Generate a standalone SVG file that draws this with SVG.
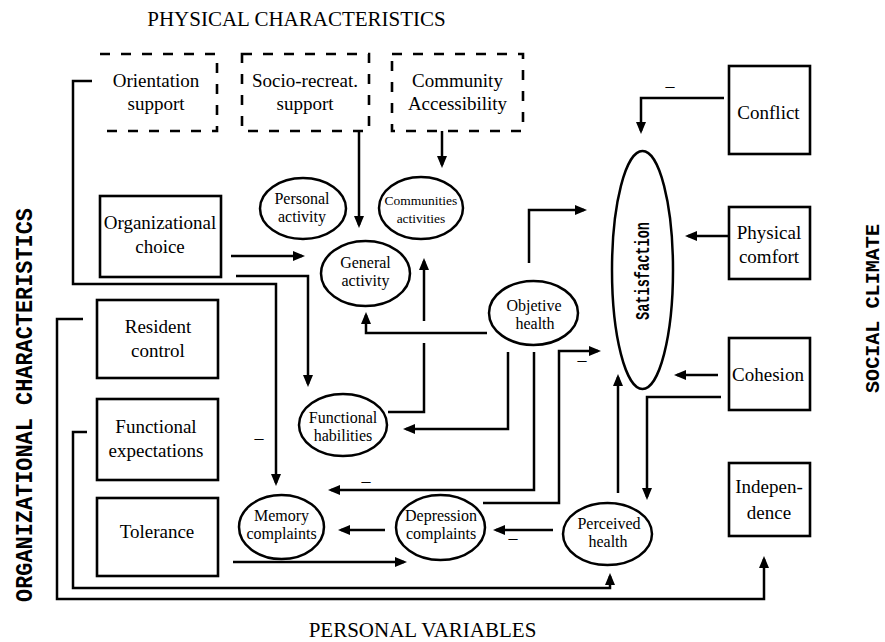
<svg xmlns="http://www.w3.org/2000/svg" width="885" height="642" viewBox="0 0 885 642">
<style>
.box{fill:#fff;stroke:#000;stroke-width:2.6}
.dbox{fill:none;stroke:#000;stroke-width:2.6;stroke-dasharray:10 11}
.ell{fill:#fff;stroke:#000;stroke-width:2.5}
.t{font-family:"Liberation Serif","Times New Roman",serif;font-size:19px;text-anchor:middle;fill:#000}
.te{font-family:"Liberation Serif","Times New Roman",serif;font-size:16px;text-anchor:middle;fill:#000}
.ts{font-family:"Liberation Serif","Times New Roman",serif;font-size:13.5px;text-anchor:middle;fill:#000}
.hd{font-family:"Liberation Serif","Times New Roman",serif;font-size:21px;text-anchor:middle;fill:#000}
.vl{font-family:"Liberation Mono","Courier New",monospace;font-weight:bold;text-anchor:middle;fill:#000}
.neg{font-family:"Liberation Serif","Times New Roman",serif;font-size:18px;text-anchor:middle;fill:#000}
.c{fill:none;stroke:#000;stroke-width:2.5;stroke-linejoin:miter}
.a{marker-end:url(#ah)}
</style>
<defs>
<marker id="ah" markerUnits="userSpaceOnUse" markerWidth="12" markerHeight="10" refX="9" refY="5" orient="auto" viewBox="0 0 12 10">
<path d="M0,0 L12,5 L0,10 z" fill="#000"/>
</marker>
</defs>

<g id="headings">
<text class="hd" x="296.5" y="26">PHYSICAL CHARACTERISTICS</text>
<text class="hd" x="422.5" y="637">PERSONAL VARIABLES</text>
<text class="vl" font-size="24" textLength="394" lengthAdjust="spacingAndGlyphs" transform="translate(32,405) rotate(-90)">ORGANIZATIONAL CHARACTERISTICS</text>
<text class="vl" font-size="21" textLength="169" lengthAdjust="spacingAndGlyphs" transform="translate(879,308.5) rotate(-90)">SOCIAL CLIMATE</text>
</g>

<g id="connectors">
<path class="c a" d="M359,131 V225"/>
<path class="c a" d="M442,131 V165"/>
<path class="c a" d="M231,256 H302"/>
<path class="c a" d="M236,276 H308 V384"/>
<path class="c a" d="M92,81 H73 V284 H276 V483"/>
<path class="c a" d="M83,319 H57 V599 H764 V559"/>
<path class="c a" d="M87,432 H73 V588 H610 V576"/>
<path class="c a" d="M233,562 H404"/>
<path class="c a" d="M529,263 V210 H584"/>
<path class="c a" d="M487,333 H366 V315"/>
<path class="c" d="M388,412 H424 V343"/>
<path class="c a" d="M424,321 V261"/>
<path class="c a" d="M508,352 V429 H406"/>
<path class="c a" d="M534,352 V490 H331"/>
<path class="c a" d="M483,503 H559 V351 H598"/>
<path class="c a" d="M618,493 V377"/>
<path class="c a" d="M553,530 H496"/>
<path class="c a" d="M385,530 H341"/>
<path class="c a" d="M724,98 H641 V131"/>
<path class="c a" d="M728,236 H688"/>
<path class="c a" d="M718,375 H677"/>
<path class="c a" d="M721,397 H647 V497"/>
<text class="neg" x="670" y="92">–</text>
<text class="neg" x="259" y="444">–</text>
<text class="neg" x="366" y="487">–</text>
<text class="neg" x="582" y="366">–</text>
<text class="neg" x="513" y="544">–</text>
</g>

<g id="orientation-support">
<path class="dbox" d="M100,54 H217 V131 H100"/>
<text class="t" x="156" y="87">Orientation</text>
<text class="t" x="156" y="110">support</text>
</g>
<g id="socio-recreat-support">
<rect class="dbox" x="242" y="54" width="127" height="77"/>
<text class="t" x="305" y="87">Socio-recreat.</text>
<text class="t" x="305" y="110">support</text>
</g>
<g id="community-accessibility">
<rect class="dbox" x="392" y="54" width="131" height="77"/>
<text class="t" x="457.5" y="87">Community</text>
<text class="t" x="457.5" y="110">Accessibility</text>
</g>

<g id="organizational-choice">
<rect class="box" x="100" y="196" width="121" height="81"/>
<text class="t" x="160" y="229">Organizational</text>
<text class="t" x="160" y="253">choice</text>
</g>
<g id="resident-control">
<rect class="box" x="97" y="300" width="121" height="78"/>
<text class="t" x="158" y="333">Resident</text>
<text class="t" x="158" y="357">control</text>
</g>
<g id="functional-expectations">
<rect class="box" x="97" y="399" width="121" height="81"/>
<text class="t" x="156" y="433">Functional</text>
<text class="t" x="156" y="457">expectations</text>
</g>
<g id="tolerance">
<rect class="box" x="97" y="498" width="121" height="78"/>
<text class="t" x="157" y="538">Tolerance</text>
</g>

<g id="conflict">
<rect class="box" x="729" y="66" width="81" height="88"/>
<text class="t" x="768.5" y="119">Conflict</text>
</g>
<g id="physical-comfort">
<rect class="box" x="729" y="207" width="81" height="72"/>
<text class="t" x="769" y="239">Physical</text>
<text class="t" x="769" y="263">comfort</text>
</g>
<g id="cohesion">
<rect class="box" x="729" y="338" width="81" height="72"/>
<text class="t" x="768" y="381">Cohesion</text>
</g>
<g id="independence">
<rect class="box" x="729" y="463" width="81" height="73"/>
<text class="t" x="769" y="493">Indepen-</text>
<text class="t" x="769" y="519">dence</text>
</g>

<g id="personal-activity">
<ellipse class="ell" cx="303" cy="208.5" rx="43" ry="30.5"/>
<text class="te" x="302" y="204">Personal</text>
<text class="te" x="302" y="222">activity</text>
</g>
<g id="communities-activities">
<ellipse class="ell" cx="421" cy="208" rx="42" ry="31"/>
<text class="ts" x="421" y="205">Communities</text>
<text class="ts" x="421" y="223">activities</text>
</g>
<g id="general-activity">
<ellipse class="ell" cx="365.5" cy="273.5" rx="44.5" ry="32.5"/>
<text class="te" x="365.5" y="268">General</text>
<text class="te" x="365.5" y="286">activity</text>
</g>
<g id="objetive-health">
<ellipse class="ell" cx="533.5" cy="313" rx="44.5" ry="32"/>
<text class="te" x="534" y="311">Objetive</text>
<text class="te" x="535" y="329">health</text>
</g>
<g id="functional-habilities">
<ellipse class="ell" cx="343" cy="425" rx="44" ry="31"/>
<text class="te" x="343" y="423">Functional</text>
<text class="te" x="343" y="441">habilities</text>
</g>
<g id="memory-complaints">
<ellipse class="ell" cx="281.5" cy="527" rx="42.5" ry="32"/>
<text class="te" x="281.5" y="521">Memory</text>
<text class="te" x="281.5" y="539">complaints</text>
</g>
<g id="depression-complaints">
<ellipse class="ell" cx="440.5" cy="527.5" rx="44.5" ry="32.5"/>
<text class="te" x="441" y="521">Depression</text>
<text class="te" x="441" y="539">complaints</text>
</g>
<g id="perceived-health">
<ellipse class="ell" cx="607.5" cy="534" rx="44.5" ry="31"/>
<text class="te" x="609" y="529">Perceived</text>
<text class="te" x="608" y="547">health</text>
</g>
<g id="satisfaction">
<ellipse class="ell" cx="642.5" cy="270" rx="30.5" ry="119"/>
<text class="vl" font-size="20" textLength="98" lengthAdjust="spacingAndGlyphs" transform="translate(649,271) rotate(-90)">Satisfaction</text>
</g>
</svg>
